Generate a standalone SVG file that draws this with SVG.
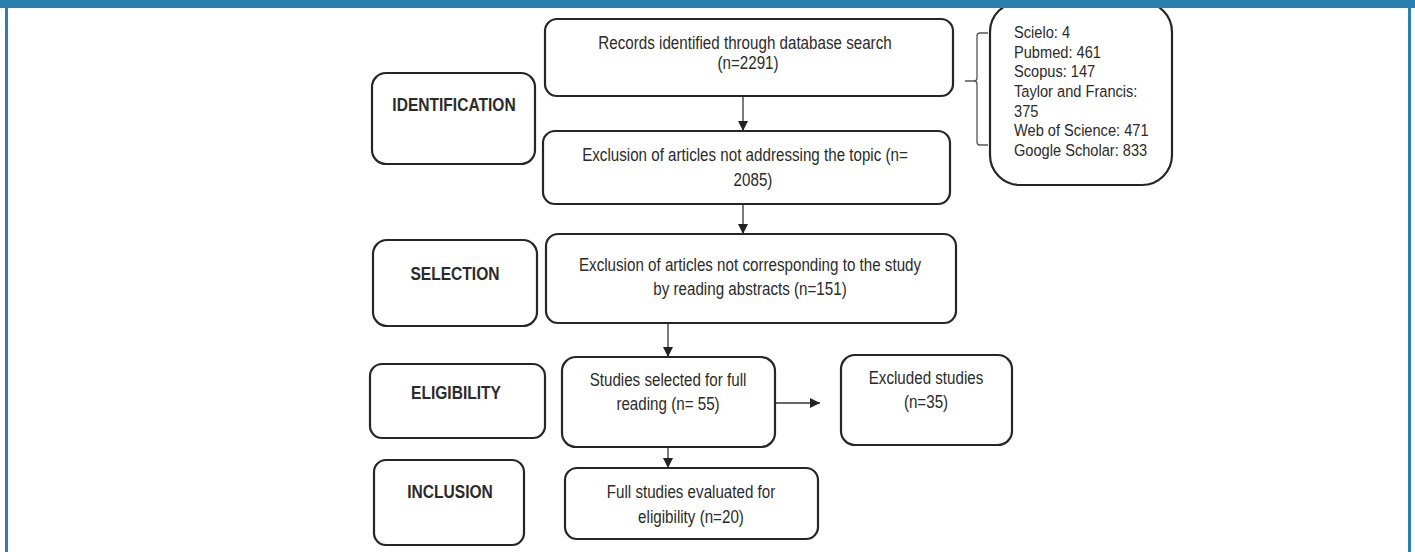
<svg xmlns="http://www.w3.org/2000/svg" width="1415" height="552" viewBox="0 0 1415 552">
<defs>
<style>
.box{fill:#fff;stroke:#262626;stroke-width:2.2}
.t{font-family:"Liberation Sans",Arial,sans-serif;font-size:18.5px;fill:#2b2b2b;text-anchor:middle}
.tb{font-family:"Liberation Sans",Arial,sans-serif;font-size:19px;font-weight:bold;fill:#2b2b2b;text-anchor:middle}
.tl{font-family:"Liberation Sans",Arial,sans-serif;font-size:17px;fill:#2b2b2b}
.ln{fill:none;stroke:#333;stroke-width:1.3}
.br{fill:none;stroke:#555;stroke-width:1.3}
</style>
<marker id="ah" viewBox="0 0 10 10" refX="10" refY="5" markerWidth="10" markerHeight="10" markerUnits="userSpaceOnUse" orient="auto">
<path d="M0,0 L10,5 L0,10 Z" fill="#222"/>
</marker>
</defs>
<rect x="0" y="0" width="1415" height="552" fill="#fff"/>

<g id="connectors">
<line class="ln" x1="743" y1="96" x2="743" y2="131" marker-end="url(#ah)"/>
<line class="ln" x1="743" y1="204" x2="743" y2="234" marker-end="url(#ah)"/>
<line class="ln" x1="668" y1="323" x2="668" y2="357" marker-end="url(#ah)"/>
<line class="ln" x1="775" y1="403" x2="820" y2="403" marker-end="url(#ah)"/>
<line class="ln" x1="668" y1="447" x2="668" y2="468" marker-end="url(#ah)"/>
<path class="br" d="M988,33 L980,33 Q977,33 977,36 L977,78 Q977,81 974,81 L965,81 M974,81 Q977,81 977,84 L977,142 Q977,145 980,145 L988,145"/>
</g>

<g id="identification">
<rect class="box" x="372" y="73" width="163" height="91" rx="14"/>
<text class="tb" transform="translate(454,111) scale(0.82,1)">IDENTIFICATION</text>
</g>
<g id="records">
<rect class="box" x="545" y="19" width="408" height="77" rx="12"/>
<text class="t" transform="translate(745,49) scale(0.82,1)">Records identified through database search</text>
<text class="t" transform="translate(748,69) scale(0.82,1)">(n=2291)</text>
</g>
<g id="sources">
<rect class="box" x="990" y="2" width="182" height="183" rx="30"/>
<text class="tl" transform="translate(1014,38) scale(0.86,1)">Scielo: 4</text>
<text class="tl" transform="translate(1014,58) scale(0.86,1)">Pubmed: 461</text>
<text class="tl" transform="translate(1014,77) scale(0.86,1)">Scopus: 147</text>
<text class="tl" transform="translate(1014,97) scale(0.86,1)">Taylor and Francis:</text>
<text class="tl" transform="translate(1014,117) scale(0.86,1)">375</text>
<text class="tl" transform="translate(1014,136) scale(0.86,1)">Web of Science: 471</text>
<text class="tl" transform="translate(1014,156) scale(0.86,1)">Google Scholar: 833</text>
</g>
<g id="exclusion-topic">
<rect class="box" x="543" y="131" width="407" height="73" rx="12"/>
<text class="t" transform="translate(745,161) scale(0.82,1)">Exclusion of articles not addressing the topic (n=</text>
<text class="t" transform="translate(753,186) scale(0.82,1)">2085)</text>
</g>
<g id="selection">
<rect class="box" x="373" y="240" width="164" height="86" rx="14"/>
<text class="tb" transform="translate(455,280) scale(0.82,1)">SELECTION</text>
</g>
<g id="exclusion-abstracts">
<rect class="box" x="546" y="234" width="410" height="89" rx="12"/>
<text class="t" transform="translate(750,271) scale(0.82,1)">Exclusion of articles not corresponding to the study</text>
<text class="t" transform="translate(750,295) scale(0.82,1)">by reading abstracts (n=151)</text>
</g>
<g id="eligibility">
<rect class="box" x="370" y="364" width="175" height="74" rx="12"/>
<text class="tb" transform="translate(456,399) scale(0.82,1)">ELIGIBILITY</text>
</g>
<g id="full-reading">
<rect class="box" x="562" y="357" width="213" height="90" rx="14"/>
<text class="t" transform="translate(668,386) scale(0.82,1)">Studies selected for full</text>
<text class="t" transform="translate(668,410) scale(0.82,1)">reading (n= 55)</text>
</g>
<g id="excluded">
<rect class="box" x="841" y="355" width="171" height="90" rx="14"/>
<text class="t" transform="translate(926,384) scale(0.82,1)">Excluded studies</text>
<text class="t" transform="translate(926,408) scale(0.82,1)">(n=35)</text>
</g>
<g id="inclusion">
<rect class="box" x="374" y="460" width="150" height="85" rx="12"/>
<text class="tb" transform="translate(450,498) scale(0.82,1)">INCLUSION</text>
</g>
<g id="full-studies">
<rect class="box" x="565" y="468" width="253" height="71" rx="12"/>
<text class="t" transform="translate(691,498) scale(0.82,1)">Full studies evaluated for</text>
<text class="t" transform="translate(691,523) scale(0.82,1)">eligibility (n=20)</text>
</g>

<g id="frame">
<rect x="0" y="0" width="1415" height="8" fill="#2b80b2"/>
<rect x="5" y="0" width="3" height="552" fill="#2b80b2"/>
<rect x="1408" y="0" width="3" height="552" fill="#2b80b2"/>
</g>
</svg>
